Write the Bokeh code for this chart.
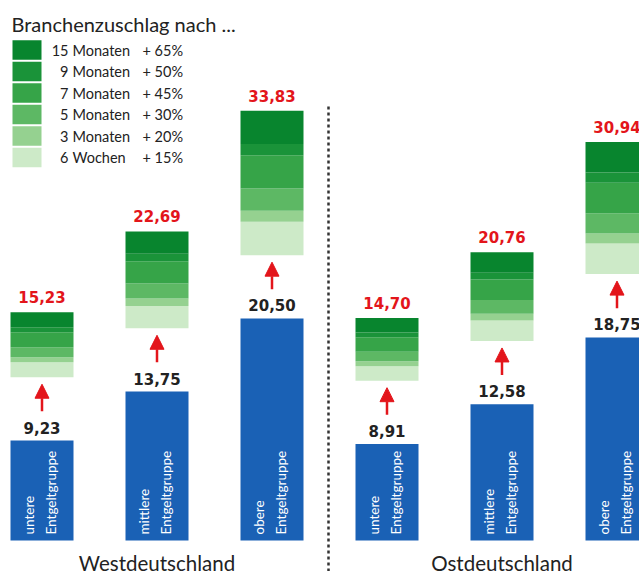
import math
from bokeh.plotting import figure
from bokeh.models import Range1d, Arrow, NormalHead, ColumnDataSource, Label
from bokeh.core.properties import value
from bokeh.embed import file_html
from bokeh.resources import INLINE

# ---------------- data ----------------
regions = ["Westdeutschland", "Ostdeutschland"]
groups = ["untere\nEntgeltgruppe", "mittlere\nEntgeltgruppe", "obere\nEntgeltgruppe"]
base_west = [9.23, 13.75, 20.50]
base_east = [8.91, 12.58, 18.75]
total_west = [15.23, 22.69, 33.83]
total_east = [14.70, 20.76, 30.94]
steps = ["15 Monaten", "9 Monaten", "7 Monaten", "5 Monaten", "3 Monaten", "6 Wochen"]
step_pct = [65, 50, 45, 30, 20, 15]

# ---------------- style ----------------
BLUE = "#1a61b5"
RED = "#e3151b"
DARK = "#222222"
GREENS = ["#08852e", "#1a9339", "#36a448", "#5db864", "#95d190", "#cdeac8"]  # same order as steps
TXT_FONT = "Lato"
NUM_FONT = "DejaVu Sans"

W, H = 639, 571
PX_X = 115.0      # px per category step
PX_Y = 10.83      # px per unit
X0_PAGE = 41.5    # page x of first bar centre
Y0_PAGE = 540.0   # page y of value 0
GAP = 5.85        # gap between blue bar and green block (units)
BAR_W = 63 / PX_X


def dx(px):
    return (px - X0_PAGE) / PX_X


def dy(py):
    return (Y0_PAGE - py) / PX_Y


def upx(n):  # n pixels expressed in y-units
    return n / PX_Y


p = figure(width=W, height=H,
           x_range=Range1d(dx(0), dx(W)),
           y_range=Range1d(dy(H), dy(0)),
           x_axis_type=None, y_axis_type=None,
           output_backend="svg", toolbar_location=None,
           min_border=0, outline_line_color=None,
           background_fill_color="white", border_fill_color="white")
p.grid.visible = False

base = base_west + base_east
total = total_west + total_east
xs = list(range(len(base)))
cats = groups * 2
fmt = lambda v: f"{v:.2f}".replace(".", ",")

# blue bars
p.vbar(x=xs, top=base, bottom=0, width=BAR_W, fill_color=BLUE, line_color=None)

# green supplement blocks (bands from 0 -> 15 -> 20 -> 30 -> 45 -> 50 -> 65 %)
pct_asc = step_pct[::-1]
col_asc = GREENS[::-1]
lows = [0] + pct_asc[:-1]
bx, bb, bt, bc = [], [], [], []
for i, b in enumerate(base):
    for lo, hi, c in zip(lows, pct_asc, col_asc):
        bx.append(xs[i])
        bb.append(b + GAP + b * lo / 100)
        bt.append(b + GAP + b * hi / 100)
        bc.append(c)
p.vbar(x=bx, bottom=bb, top=bt, width=BAR_W, fill_color=bc, line_color=None)

# value labels
p.text(x=xs, y=[b + upx(13) for b in base], text=[fmt(v) for v in base],
       text_font=value(NUM_FONT), text_font_style="bold", text_font_size="15px",
       text_color=DARK, text_align="center", text_baseline="middle")
p.text(x=xs, y=[t + GAP + upx(15) for t in total], text=[fmt(v) for v in total],
       text_font=value(NUM_FONT), text_font_style="bold", text_font_size="15px",
       text_color=RED, text_align="center", text_baseline="middle")

# arrows
asrc = ColumnDataSource(dict(x=xs, y0=[b + GAP - 3.15 for b in base],
                             y1=[b + GAP - 0.65 for b in base]))
p.add_layout(Arrow(end=NormalHead(size=14, fill_color=RED, line_color=RED, line_width=1),
                   x_start="x", y_start="y0", x_end="x", y_end="y1", source=asrc,
                   line_color=RED, line_width=2.5))

# rotated group labels inside blue bars
p.text(x=[x - 2 / PX_X for x in xs], y=[upx(6)] * len(xs), text=cats, angle=math.pi / 2,
       text_font=value(TXT_FONT), text_font_size="13.5px", text_color="white",
       text_align="left", text_baseline="middle", text_line_height=1.4)

# divider
p.segment(x0=[dx(328)], y0=[dy(H)], x1=[dx(328)], y1=[dy(106)],
          line_color="#333333", line_width=2.5, line_dash="3 3")

# region labels
p.text(x=[1, 4], y=[dy(562)] * 2, text=regions, text_font=value(TXT_FONT),
       text_font_size="20.5px", text_color=DARK, text_align="center",
       text_baseline="middle")

# title
p.add_layout(Label(x=dx(11), y=dy(23), text="Branchenzuschlag nach ...",
                   text_font=TXT_FONT, text_font_size="20px", text_color=DARK,
                   text_baseline="middle"))

# legend
rows = list(range(len(steps)))
row_y = [dy(49.5 + 21.5 * r) for r in rows]
p.rect(x=[dx(26.5)] * len(rows), y=row_y, width=29 / PX_X, height=19.5 / PX_Y,
       fill_color=GREENS, line_color=None)
nums = [s.split(" ", 1)[0] for s in steps]
words = [s.split(" ", 1)[1] for s in steps]
p.text(x=[dx(68)] * len(rows), y=row_y, text=nums, text_font=value(TXT_FONT),
       text_font_size="14.5px", text_color=DARK, text_align="right", text_baseline="middle")
p.text(x=[dx(72)] * len(rows), y=row_y, text=words, text_font=value(TXT_FONT),
       text_font_size="14.5px", text_color=DARK, text_align="left", text_baseline="middle")
p.text(x=[dx(142)] * len(rows), y=row_y, text=[f"+ {v}%" for v in step_pct],
       text_font=value(TXT_FONT), text_font_size="14.5px", text_color=DARK,
       text_align="left", text_baseline="middle")

open("out.html", "w").write(file_html(p, INLINE))
